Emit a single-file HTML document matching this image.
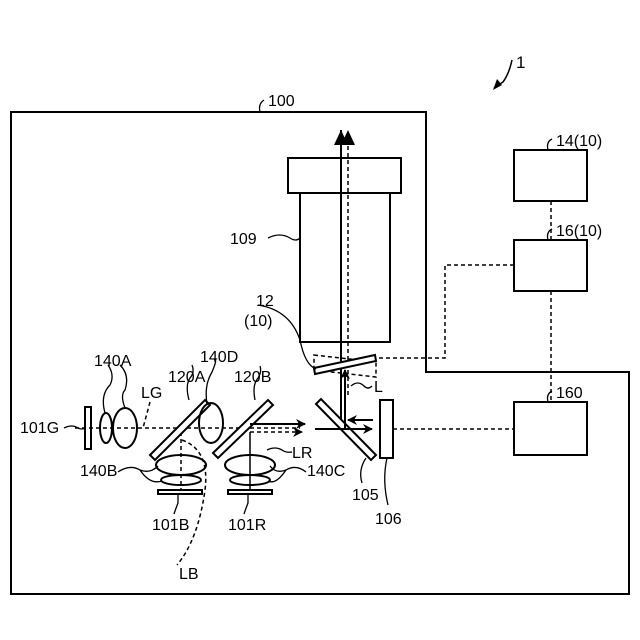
<!DOCTYPE html>
<html><head><style>
body{margin:0;background:#fff}
svg{display:block}
text{font-family:"Liberation Sans",sans-serif;font-size:16px;fill:#000}
</style></head><body>
<svg width="640" height="640" viewBox="0 0 640 640" xmlns="http://www.w3.org/2000/svg">
<defs>
<marker id="ah" markerWidth="10" markerHeight="10" refX="9" refY="5" orient="auto" markerUnits="userSpaceOnUse"><path d="M0,0 L10,5 L0,10 L3,5 Z" fill="#000"/></marker>
</defs>
<g fill="none" stroke="#000" stroke-width="2">
<path d="M11,112 H426 V372 H629 V594 H11 Z"/>
<rect x="288" y="158" width="113" height="35"/>
<rect x="300" y="193" width="90" height="149"/>
<rect x="514" y="150" width="73" height="51"/>
<rect x="514" y="240" width="73" height="51"/>
<rect x="514" y="402" width="73" height="53"/>
<rect x="380" y="400" width="13" height="58"/>
<rect x="85" y="407" width="6" height="42"/>
<rect x="158" y="490" width="44" height="4"/>
<rect x="228" y="490" width="44" height="4"/>
</g>
<g fill="none" stroke="#000" stroke-width="1.5" stroke-dasharray="4,3">
<path d="M551,201 V240 M551,291 V402"/>
<path d="M514,265 H445 V358 H376"/>
<path d="M393,429 H514"/>
<path d="M314,355 L376,362 L376,377 L314,370 Z"/>
<path d="M348,395 V140"/>
<path d="M75,428 H300"/>
<path d="M250,432 H302" marker-end="url(#ah)"/>
<path d="M181,432 V490"/>
<path d="M182,440 Q210,450 205,490 Q198,540 177,565" />
<path d="M150,402 L143,428"/>
</g>
<line x1="341" y1="420" x2="341" y2="130" stroke="#000" stroke-width="2"/>
<path d="M334,145 L341,130 L348,145 Z M341,145 L348,130 L355,145 Z" fill="#000"/>
<g fill="#fff" stroke="#000" stroke-width="2">
<polygon points="314,368 375,355 376,361 315,374"/>
<polygon points="150,455 205,400 210,405 155,460"/>
<polygon points="213,453 268,400 273,405 218,458"/>
<polygon points="316,404 321,399 376,455 371,460"/>
</g>
<g fill="none" stroke="#000" stroke-width="2">
<ellipse cx="106" cy="428" rx="6" ry="15"/>
<ellipse cx="125" cy="428" rx="12" ry="20"/>
<ellipse cx="211" cy="423" rx="12" ry="20"/>
<ellipse cx="181" cy="465" rx="25" ry="10"/>
<ellipse cx="181" cy="480" rx="20" ry="5"/>
<ellipse cx="250" cy="465" rx="25" ry="10"/>
<ellipse cx="250" cy="480" rx="20" ry="5"/>
</g>
<g stroke="#000" stroke-width="2" fill="none">
<line x1="250" y1="432" x2="250" y2="490" stroke-width="1.5"/>
<line x1="250" y1="424" x2="305" y2="424" marker-end="url(#ah)"/>
<line x1="315" y1="429" x2="372" y2="429" marker-end="url(#ah)"/>
<line x1="373" y1="420" x2="348" y2="420" marker-end="url(#ah)"/>
<line x1="345" y1="429" x2="345" y2="370" marker-end="url(#ah)"/>
<path d="M494,88 L503,82 Q509,74 512,60" stroke-width="1.5"/>
</g>
<path d="M493,90 L497,79 L502,85 Z" fill="#000"/>
<g stroke="#000" stroke-width="1.3" fill="none">
<path d="M260,112 Q258,104 264,100"/>
<path d="M548,150 Q546,142 552,139"/>
<path d="M548,240 Q546,232 552,229"/>
<path d="M548,402 Q546,394 552,391"/>
<path d="M268,238 Q280,232 290,238 Q296,242 300,238"/>
<path d="M258,305 Q290,310 300,340 Q305,365 316,369"/>
<path d="M351,386 Q358,380 364,386 Q368,390 372,386"/>
<path d="M64,428 Q72,424 78,428 Q82,430 85,428"/>
<path d="M105,413 Q100,395 110,385 Q115,375 108,365"/>
<path d="M125,408 Q120,395 125,390 Q130,375 120,365"/>
<path d="M189,400 Q185,385 190,378 Q195,372 192,365"/>
<path d="M207,404 Q204,385 212,372 Q218,358 214,360"/>
<path d="M255,400 Q252,385 258,378 Q262,372 260,366"/>
<path d="M267,450 Q275,446 282,450 Q286,453 292,452"/>
<path d="M118,472 Q130,464 140,470 Q150,474 158,466 M140,470 Q150,485 162,481"/>
<path d="M306,472 Q296,464 286,470 Q276,474 270,466 M286,470 Q276,485 268,481"/>
<path d="M178,494 V503 Q176,508 174,514"/>
<path d="M248,494 V503 Q246,508 244,514"/>
<path d="M366,458 Q358,470 362,483"/>
<path d="M387,458 Q382,480 388,505"/>
</g>
<text x="268" y="106">100</text>
<text x="516" y="68" style="font-size:17px">1</text>
<text x="556" y="146">14(10)</text>
<text x="556" y="236">16(10)</text>
<text x="556" y="398">160</text>
<text x="230" y="244">109</text>
<text x="256" y="306">12</text>
<text x="244" y="326">(10)</text>
<text x="374" y="392">L</text>
<text x="20" y="433">101G</text>
<text x="94" y="366">140A</text>
<text x="141" y="398">LG</text>
<text x="168" y="382">120A</text>
<text x="200" y="362">140D</text>
<text x="234" y="382">120B</text>
<text x="292" y="458">LR</text>
<text x="80" y="476">140B</text>
<text x="307" y="476">140C</text>
<text x="152" y="530">101B</text>
<text x="228" y="530">101R</text>
<text x="179" y="579">LB</text>
<text x="352" y="500">105</text>
<text x="375" y="524">106</text>
</svg>
</body></html>
